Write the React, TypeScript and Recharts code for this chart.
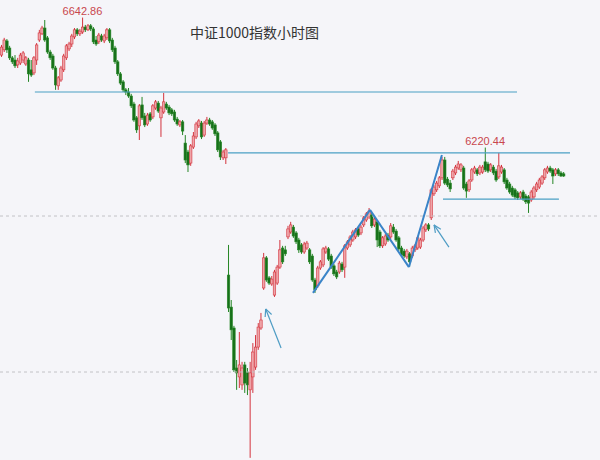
import React from 'react';
import { ComposedChart, Bar, XAxis, YAxis, ReferenceLine, ReferenceDot } from 'recharts';

// Hourly candles of the CSI 1000 index (open / high / low / close)
const openP = [
  6521, 6538, 6567, 6544, 6512, 6505, 6489, 6495, 6505, 6492,
  6505, 6473, 6463, 6505, 6570, 6590, 6609, 6577, 6531, 6518,
  6479, 6421, 6440, 6473, 6512, 6541, 6557, 6580, 6603, 6590,
  6596, 6612, 6603, 6616, 6606, 6570, 6564, 6583, 6567, 6577,
  6603, 6570, 6544, 6499, 6460, 6434, 6408, 6401, 6388, 6362,
  6317, 6291, 6359, 6323, 6297, 6330, 6320, 6349, 6365, 6317,
  6336, 6362, 6352, 6343, 6336, 6313, 6294, 6304, 6235, 6206,
  6170, 6222, 6255, 6291, 6300, 6261, 6300, 6310, 6304, 6294,
  6268, 6239, 6187, 6187, 5806, 5702, 5634, 5504, 5475, 5449,
  5514, 5491, 5433, 5475, 5507, 5572, 5634, 5764, 5862, 5797,
  5777, 5741, 5780, 5832, 5894, 5888, 5930, 5946, 5962, 5943,
  5920, 5904, 5881, 5894, 5888, 5868, 5790, 5771, 5829, 5839,
  5881, 5891, 5868, 5836, 5816, 5816, 5842, 5832, 5894, 5904,
  5920, 5930, 5956, 5943, 5969, 5985, 5995, 6001, 5969, 5979,
  5946, 5901, 5907, 5936, 5930, 5962, 5949, 5927, 5894, 5884,
  5865, 5875, 5868, 5888, 5894, 5897, 5920, 5953, 5969, 5992,
  6070, 6083, 6096, 6122, 6180, 6118, 6105, 6122, 6138, 6154,
  6148, 6154, 6102, 6083, 6115, 6141, 6148, 6138, 6141, 6174,
  6167, 6148, 6157, 6144, 6125, 6141, 6148, 6115, 6102, 6089,
  6083, 6073, 6060, 6076, 6063, 6060, 6050, 6060, 6083, 6092,
  6105, 6122, 6141, 6154, 6148, 6135, 6148, 6138, 6135,
];
const highP = [
  6554, 6577, 6573, 6551, 6518, 6521, 6512, 6528, 6534, 6518,
  6512, 6505, 6518, 6560, 6603, 6616, 6635, 6583, 6538, 6525,
  6486, 6453, 6486, 6525, 6557, 6564, 6590, 6609, 6609, 6606,
  6642.86, 6619, 6622, 6622, 6612, 6583, 6593, 6590, 6590, 6609,
  6609, 6577, 6551, 6505, 6466, 6440, 6414, 6414, 6395, 6369,
  6323, 6362, 6385, 6333, 6333, 6336, 6362, 6375, 6372, 6356,
  6398, 6369, 6359, 6349, 6343, 6320, 6310, 6310, 6261, 6213,
  6232, 6271, 6304, 6313, 6307, 6307, 6320, 6317, 6310, 6300,
  6274, 6245, 6213, 6219, 5904, 5725, 5641, 5530, 5621, 5524,
  5524, 5504, 5524, 5585, 5611, 5650, 5683, 5878, 5868, 5803,
  5803, 5823, 5839, 5920, 5901, 5901, 5966, 5979, 5969, 5949,
  5927, 5910, 5914, 5917, 5894, 5875, 5797, 5836, 5855, 5897,
  5901, 5897, 5875, 5842, 5823, 5852, 5849, 5907, 5920, 5936,
  5953, 5959, 5962, 5969, 5998, 6011, 6024, 6008, 5995, 5985,
  5953, 5933, 5940, 5943, 5975, 5972, 5956, 5933, 5901, 5891,
  5891, 5881, 5901, 5907, 5933, 5927, 5966, 5975, 5975, 6089,
  6099, 6112, 6128, 6190, 6190, 6125, 6115, 6151, 6164, 6177,
  6170, 6161, 6109, 6118, 6154, 6161, 6154, 6164, 6164, 6220.44,
  6174, 6170, 6164, 6151, 6203, 6164, 6154, 6122, 6109, 6096,
  6089, 6079, 6079, 6083, 6070, 6066, 6083, 6096, 6109, 6122,
  6131, 6154, 6161, 6161, 6154, 6154, 6154, 6144, 6141,
];
const lowP = [
  6515, 6531, 6528, 6505, 6492, 6479, 6479, 6489, 6495, 6486,
  6434, 6450, 6456, 6489, 6564, 6586, 6564, 6525, 6505, 6473,
  6408, 6408, 6434, 6466, 6505, 6534, 6547, 6573, 6583, 6583,
  6590, 6596, 6599, 6599, 6557, 6551, 6557, 6564, 6560, 6570,
  6560, 6531, 6492, 6453, 6424, 6401, 6391, 6382, 6349, 6304,
  6268, 6245, 6310, 6287, 6291, 6304, 6313, 6343, 6333, 6255,
  6330, 6343, 6326, 6323, 6304, 6291, 6287, 6261, 6170, 6141,
  6161, 6216, 6248, 6284, 6248, 6255, 6294, 6291, 6278, 6258,
  6206, 6180, 6180, 6167, 5686, 5595, 5491, 5433, 5439, 5433,
  5423, 5416, 5212, 5423, 5498, 5563, 5628, 5758, 5784, 5774,
  5771, 5735, 5774, 5826, 5842, 5868, 5923, 5940, 5927, 5907,
  5878, 5875, 5875, 5888, 5842, 5784, 5748, 5764, 5823, 5832,
  5875, 5852, 5826, 5803, 5793, 5810, 5816, 5797, 5888, 5897,
  5914, 5923, 5930, 5936, 5962, 5979, 5988, 5959, 5962, 5897,
  5894, 5894, 5901, 5914, 5923, 5940, 5914, 5884, 5865, 5862,
  5858, 5832, 5862, 5881, 5888, 5891, 5914, 5946, 5949, 5985,
  6063, 6076, 6089, 6115, 6099, 6092, 6076, 6115, 6131, 6148,
  6141, 6083, 6057, 6076, 6109, 6135, 6128, 6131, 6135, 6141,
  6138, 6141, 6131, 6109, 6118, 6135, 6102, 6083, 6070, 6060,
  6053, 6050, 6053, 6047, 6037, 6008, 6044, 6053, 6076, 6086,
  6099, 6115, 6135, 6138, 6102, 6128, 6128, 6125, 6125,
];
const closeP = [
  6547, 6570, 6538, 6512, 6499, 6486, 6502, 6521, 6528, 6512,
  6460, 6456, 6512, 6554, 6593, 6609, 6570, 6531, 6512, 6479,
  6424, 6447, 6479, 6518, 6551, 6557, 6583, 6603, 6590, 6599,
  6612, 6603, 6616, 6606, 6564, 6557, 6586, 6570, 6583, 6603,
  6567, 6538, 6499, 6460, 6430, 6408, 6401, 6388, 6356, 6310,
  6278, 6356, 6317, 6294, 6326, 6310, 6356, 6369, 6339, 6349,
  6369, 6349, 6333, 6330, 6310, 6297, 6304, 6274, 6180, 6164,
  6226, 6258, 6297, 6307, 6255, 6300, 6310, 6297, 6284, 6265,
  6213, 6190, 6206, 6213, 5699, 5628, 5498, 5488, 5514, 5504,
  5455, 5449, 5488, 5556, 5572, 5637, 5660, 5862, 5790, 5780,
  5793, 5816, 5832, 5888, 5849, 5875, 5956, 5969, 5933, 5914,
  5888, 5881, 5907, 5910, 5849, 5790, 5758, 5829, 5849, 5891,
  5894, 5858, 5832, 5810, 5800, 5845, 5823, 5901, 5914, 5930,
  5946, 5953, 5936, 5962, 5992, 6005, 6014, 5966, 5988, 5920,
  5901, 5927, 5933, 5920, 5966, 5946, 5920, 5891, 5871, 5868,
  5884, 5849, 5894, 5901, 5927, 5920, 5959, 5969, 5956, 6083,
  6092, 6105, 6122, 6180, 6105, 6099, 6086, 6144, 6157, 6167,
  6164, 6089, 6079, 6112, 6148, 6154, 6135, 6157, 6157, 6148,
  6144, 6164, 6138, 6115, 6161, 6157, 6109, 6089, 6076, 6066,
  6060, 6057, 6073, 6053, 6044, 6040, 6076, 6089, 6102, 6115,
  6125, 6148, 6154, 6144, 6128, 6148, 6135, 6128, 6128,
];

// axis setup: one slot per hourly bar, plus empty slots to the right edge
const NSLOTS = 222;
const PRICE_DOMAIN: [number, number] = [5205, 6700];

// annotations (x in slot units, y in index points)
const supportLevels = [
  { y: 6401, from: 12.9, to: 191.3 },
  { y: 6203, from: 84.4, to: 210.9 },
  { y: 6053, from: 163.9, to: 206.8 },
];
const dashedLevels = [5998, 5491];
const trendPath: [number, number][] = [
  [115.8, 5748],
  [136.9, 6018],
  [151.3, 5832],
  [163.5, 6196],
];
const arrows = [
  { head: [98.3, 5696], tail: [104.0, 5569], wings: [[98.1, 5670], [100.5, 5678]] },
  { head: [160.6, 5969], tail: [166.1, 5897], wings: [[161.1, 5943], [163.1, 5955]] },
];
const peakLabels = [
  { slot: 30.5, value: 6642.86, text: '6642.86' },
  { slot: 179.5, value: 6220.44, text: '6220.44' },
];
const TITLE = '中证1000指数小时图';

const rows = Array.from({ length: NSLOTS }, (_, i) =>
  i < openP.length
    ? { i, u: i + 0.5, open: openP[i], high: highP[i], low: lowP[i], close: closeP[i] }
    : { i, u: i + 0.5 }
);

const RED = '#d4333d';
const RED_FILL = '#eea4a8';
const GREEN = '#258625';
const GREEN_FILL = '#17701a';

const Candle = (props: any) => {
  const { x, y, width, height, payload } = props;
  if (!payload || payload.open == null || y == null || height == null) return <g />;
  const top = Math.min(y, y + height);
  const h = Math.abs(height);
  const { open, close, high, low } = payload;
  const k = high > low ? h / (high - low) : 0;
  const cx = x + width / 2;
  const yO = top + (high - open) * k;
  const yC = top + (high - close) * k;
  const up = close >= open;
  const bt = Math.min(yO, yC);
  const bh = Math.max(Math.abs(yO - yC), 1);
  const bw = 2.5;
  return (
    <g>
      <line x1={cx} x2={cx} y1={top} y2={top + h} stroke={up ? RED : GREEN} strokeWidth={1} />
      <rect
        x={cx - bw / 2}
        y={bt}
        width={bw}
        height={bh}
        fill={up ? RED_FILL : GREEN_FILL}
        stroke={up ? RED : GREEN}
        strokeWidth={0.6}
      />
    </g>
  );
};

const rangeKey = (d: any) => (d.open == null ? null : [d.low, d.high]);

export default function App() {
  return (
    <div style={{ position: 'absolute', left: 0, top: 0, width: 600, height: 460, background: '#f5f5f9', overflow: 'hidden' }}>
      <ComposedChart width={600} height={460} data={rows} margin={{ top: 0, right: 0, bottom: 0, left: 0 }} barCategoryGap={0}>
        <XAxis xAxisId="c" dataKey="i" type="category" hide height={0} />
        <XAxis xAxisId="n" dataKey="u" type="number" domain={[0, NSLOTS]} allowDataOverflow hide height={0} />
        <YAxis yAxisId="p" type="number" domain={PRICE_DOMAIN} allowDataOverflow hide width={0} />
        {dashedLevels.map((v) => (
          <ReferenceLine key={'d' + v} xAxisId="n" yAxisId="p" y={v} stroke="#c2c2c6" strokeDasharray="3 3" strokeWidth={1} />
        ))}
        <Bar xAxisId="c" yAxisId="p" dataKey={rangeKey} shape={<Candle />} isAnimationActive={false} />
        {supportLevels.map((l) => (
          <ReferenceLine
            key={'s' + l.y}
            xAxisId="n"
            yAxisId="p"
            segment={[{ x: l.from, y: l.y }, { x: l.to, y: l.y }]}
            stroke="#4a9fc4"
            strokeWidth={1.2}
          />
        ))}
        {trendPath.slice(1).map((p, idx) => (
          <ReferenceLine
            key={'t' + idx}
            xAxisId="n"
            yAxisId="p"
            segment={[{ x: trendPath[idx][0], y: trendPath[idx][1] }, { x: p[0], y: p[1] }]}
            stroke="#3a84c8"
            strokeWidth={2}
          />
        ))}
        {arrows.map((a, idx) => (
          <ReferenceLine
            key={'a' + idx}
            xAxisId="n"
            yAxisId="p"
            segment={[{ x: a.tail[0], y: a.tail[1] }, { x: a.head[0], y: a.head[1] }]}
            stroke="#4e9cc4"
            strokeWidth={1.2}
          />
        ))}
        {arrows.flatMap((a, idx) =>
          a.wings.map((w, j) => (
            <ReferenceLine
              key={'w' + idx + '_' + j}
              xAxisId="n"
              yAxisId="p"
              segment={[{ x: a.head[0], y: a.head[1] }, { x: w[0], y: w[1] }]}
              stroke="#4e9cc4"
              strokeWidth={1.2}
            />
          ))
        )}
        {peakLabels.map((p) => (
          <ReferenceDot
            key={p.text}
            xAxisId="n"
            yAxisId="p"
            x={p.slot}
            y={p.value}
            r={0}
            stroke="none"
            fill="none"
            label={{ value: p.text, position: 'top', offset: 3, fill: '#c9474d', fontSize: 11, fontFamily: 'Liberation Sans, Arial, sans-serif' }}
          />
        ))}
      </ComposedChart>
      <div
        style={{
          position: 'absolute',
          left: 190,
          top: 22,
          fontFamily: '"Noto Sans CJK SC", sans-serif',
          fontSize: 14,
          lineHeight: '20px',
          color: '#333',
          whiteSpace: 'nowrap',
        }}
      >
        {TITLE}
      </div>
    </div>
  );
}
